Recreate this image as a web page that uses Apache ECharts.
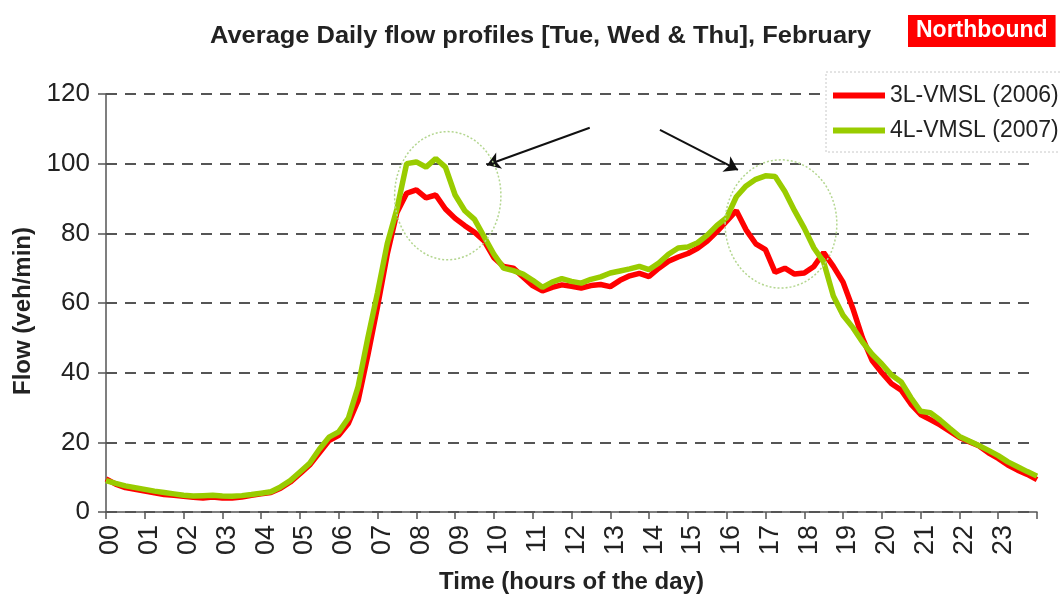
<!DOCTYPE html>
<html>
<head>
<meta charset="utf-8">
<title>Average Daily flow profiles</title>
<script src="https://cdn.jsdelivr.net/npm/echarts@6/dist/echarts.min.js"></script>
<style>
html, body { margin: 0; padding: 0; background: #fff; }
#mainChart { width: 1060px; height: 599px; }
</style>
</head>
<body>
<div id="mainChart"></div>
<script>
'use strict'
// samples every 15 minutes, 00:00 .. 24:00
var stepHours = 0.25;
var hourLabels = ['00','01','02','03','04','05','06','07','08','09','10','11',
                  '12','13','14','15','16','17','18','19','20','21','22','23'];

var flow2006 = [
    9.5, 8.0, 7.0, 6.5,   6.0, 5.5, 5.0, 4.8,   4.5, 4.2, 4.0, 4.3,   4.0, 4.0, 4.3, 4.8,
    5.2, 5.6, 6.8, 8.6,   11.0, 13.5, 17.0, 20.5,   22.0, 25.5, 32.0, 45.0,
    59.0, 74.0, 86.0, 91.5,   92.5, 90.2, 91.0, 87.0,   84.3, 82.2, 80.3, 77.8,
    73.0, 70.5, 70.0, 67.5,   65.0, 63.5, 64.5, 65.2,   64.8, 64.3, 65.0, 65.3,
    64.7, 66.5, 67.8, 68.5,   67.6, 70.0, 72.0, 73.2,   74.2, 75.7, 77.8, 80.5,
    83.5, 86.5, 81.0, 77.0,   75.3, 68.8, 70.0, 68.3,   68.6, 70.5, 74.5, 70.5,
    66.0, 58.5, 50.0, 43.5,   40.0, 36.8, 35.0, 31.0,   28.0, 26.5, 25.0, 23.2,
    21.4, 20.2, 19.0, 17.0,   15.4, 13.5, 12.0, 10.8,   9.3
];
var flow2007 = [
    9.0, 8.2, 7.5, 7.0,   6.5, 6.0, 5.6, 5.2,   4.8, 4.6, 4.7, 4.8,   4.6, 4.5, 4.7, 5.0,
    5.4, 5.8, 7.2, 9.0,   11.5, 14.0, 18.0, 21.5,   23.0, 27.0, 36.0, 50.0,
    63.0, 77.0, 87.0, 100.0,   100.5, 99.0, 101.5, 99.0,   91.0, 86.5, 84.0, 79.0,
    74.0, 70.0, 69.3, 68.3,   66.5, 64.5, 66.0, 67.0,   66.2, 65.7, 66.8, 67.5,
    68.6, 69.2, 69.8, 70.5,   69.6, 71.5, 74.0, 75.8,   76.1, 77.3, 79.5, 82.3,
    84.5, 90.5, 93.6, 95.5,   96.5, 96.3, 92.0, 86.5,   81.5, 75.8, 71.8, 62.0,
    56.5, 53.0, 48.8, 45.3,   42.5, 39.3, 37.3, 32.8,   28.9, 28.5, 26.4, 24.0,
    21.7, 20.4, 19.1, 17.7,   16.2, 14.4, 13.0, 11.6,   10.3
];

// annotations in data units: [hour, flow, radius in hours, radius in flow]
var highlightEllipses = [[8.81, 90.8, 1.37, 18.4], [17.4, 82.7, 1.44, 18.4]];
// arrows: [fromHour, fromFlow, toHour, toFlow]
var pointerArrows = [[12.47, 110.3, 9.82, 99.6], [14.28, 109.7, 16.29, 98.2]];

function toPairs(values) {
    return values.map(function (v, i) { return [i * stepHours, v]; });
}

var font = 'Liberation Sans, Arial, sans-serif';

var myChart = echarts.init(document.getElementById('mainChart'));
myChart.setOption({
    animation: false,
    textStyle: { fontFamily: font },
    title: {
        text: 'Northbound',
        left: 908, top: 15,
        backgroundColor: '#ff0000',
        padding: [4, 8, 5, 8],
        textStyle: { fontSize: 23, fontWeight: 'bold', color: '#fff', fontFamily: font }
    },
    legend: {
        orient: 'vertical',
        left: 826, top: 72,
        padding: [12, 240, 12, 7],
        backgroundColor: '#fff',
        icon: 'rect',
        itemWidth: 52, itemHeight: 6,
        itemGap: 12,
        textStyle: { fontSize: 23, color: '#222', fontFamily: font },
        data: ['3L-VMSL (2006)', '4L-VMSL (2007)']
    },
    grid: { left: 106, right: 23, top: 94, bottom: 86.5 },
    xAxis: {
        type: 'value',
        min: 0, max: 24, interval: 1,
        name: 'Time (hours of the day)',
        nameLocation: 'middle',
        nameGap: 58,
        nameTextStyle: { fontSize: 24, fontWeight: 'bold', color: '#222', fontFamily: font },
        axisLine: { lineStyle: { color: '#555', width: 1.5 } },
        axisTick: { length: 7, lineStyle: { color: '#555', width: 1.5 } },
        axisLabel: {
            rotate: 90, fontSize: 27, color: '#222', margin: 13,
            verticalAlign: 'top', lineHeight: 10,
            formatter: function (v) { return hourLabels[v] || ''; }
        },
        splitLine: { show: false }
    },
    yAxis: {
        type: 'value',
        min: 0, max: 120, interval: 20,
        name: 'Flow (veh/min)',
        nameLocation: 'middle',
        nameGap: 68,
        nameTextStyle: { fontSize: 24, fontWeight: 'bold', color: '#222', fontFamily: font, padding: [0, 16, 0, 0] },
        axisLine: { show: true, lineStyle: { color: '#555', width: 1.5 } },
        axisTick: { show: true, length: 8, lineStyle: { color: '#555', width: 1.5 } },
        axisLabel: { fontSize: 26, color: '#222', margin: 16 },
        splitLine: { lineStyle: { color: '#555', width: 2, type: [11, 8] } }
    },
    series: [
        {
            name: '3L-VMSL (2006)',
            type: 'line',
            data: toPairs(flow2006),
            symbol: 'none',
            itemStyle: { color: '#ff0000' },
            lineStyle: { color: '#ff0000', width: 5.5 },
            markLine: {
                silent: true,
                symbol: ['none', 'arrow'],
                symbolSize: 13,
                label: { show: false },
                lineStyle: { color: '#111', width: 2, type: 'solid' },
                data: pointerArrows.map(function (a) {
                    return [{ coord: [a[0], a[1]] }, { coord: [a[2], a[3]] }];
                })
            }
        },
        {
            name: '4L-VMSL (2007)',
            type: 'line',
            data: toPairs(flow2007),
            symbol: 'none',
            itemStyle: { color: '#99cc00' },
            lineStyle: { color: '#99cc00', width: 5.5 }
        }
    ]
});

// title text, widened to the reference's proportions
var extras = [{
    type: 'text',
    x: 210, y: 24,
    scaleX: 1.06,
    style: {
        text: 'Average Daily flow profiles [Tue, Wed & Thu], February',
        font: 'bold 24px ' + font,
        fill: '#222'
    },
    z: 10
}];
// dotted highlight ellipses, placed through the chart's own scales
highlightEllipses.forEach(function (e) {
    var c = myChart.convertToPixel({ gridIndex: 0 }, [e[0], e[1]]);
    var edge = myChart.convertToPixel({ gridIndex: 0 }, [e[0] + e[2], e[1] + e[3]]);
    extras.push({
        type: 'ellipse',
        shape: { cx: c[0], cy: c[1], rx: Math.abs(edge[0] - c[0]), ry: Math.abs(c[1] - edge[1]) },
        style: { fill: 'none', stroke: '#b3d68f', lineWidth: 1.5, lineDash: [2, 2] },
        z: 10
    });
});
// legend frame
extras.push({
    type: 'rect',
    shape: { x: 826, y: 72, width: 260, height: 80 },
    style: { fill: 'none', stroke: '#c8c8c8', lineWidth: 1, lineDash: [2, 2] },
    z: 10
});
myChart.setOption({ graphic: extras });
</script>
</body>
</html>
